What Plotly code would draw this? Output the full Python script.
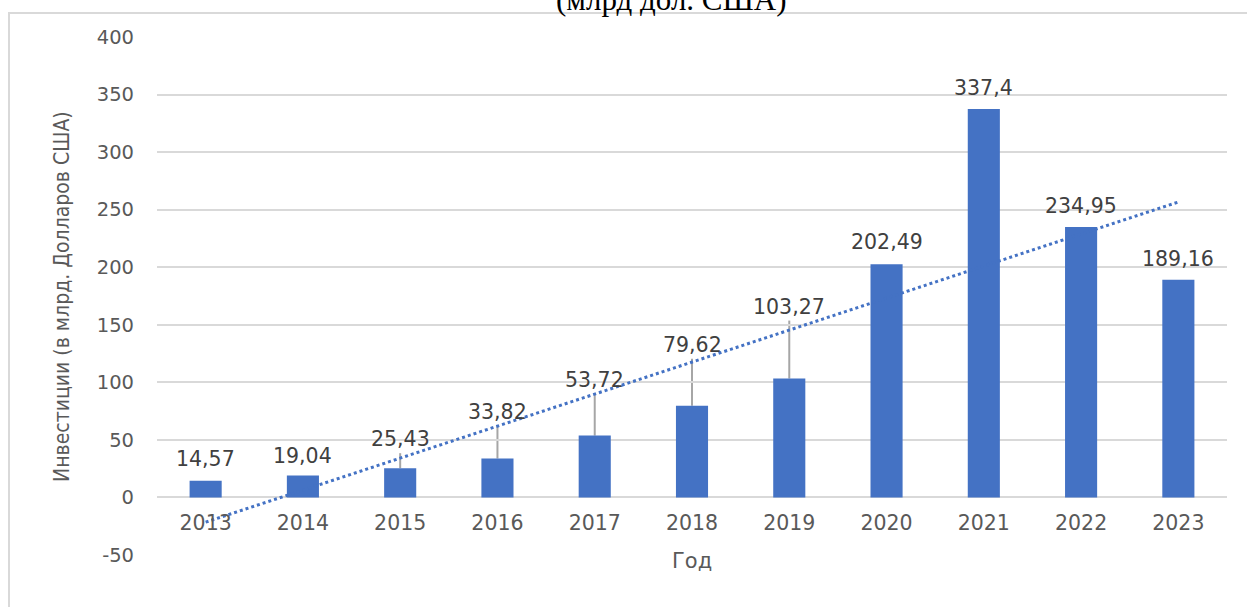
import numpy as np
import plotly.graph_objects as go

# Annual investment, billion USD
years = ["2013", "2014", "2015", "2016", "2017", "2018",
         "2019", "2020", "2021", "2022", "2023"]
investment = [14.57, 19.04, 25.43, 33.82, 53.72, 79.62,
              103.27, 202.49, 337.4, 234.95, 189.16]
y_ticks = [-50, 0, 50, 100, 150, 200, 250, 300, 350, 400]

# Vertical pixel offset of each value label above its bar top
label_shift = [22, 20, 29, 47, 56, 61, 72, 22, 21, 21, 21]
# Labels lifted well above the bar get a leader line
leader = [False, False, True, True, True, True, True, False, False, False, False]

BAR = "#4472C4"
GRID = "#D9D9D9"
TICK = "#595959"
LABEL = "#404040"

pos = list(range(len(years)))

# Linear trend across the series (least squares)
idx = np.arange(1, len(investment) + 1)
slope, intercept = np.polyfit(idx, investment, 1)
trend = slope * idx + intercept

fig = go.Figure()
fig.add_trace(go.Bar(x=pos, y=investment, marker=dict(color=BAR, line=dict(width=0)),
                     width=0.33, hoverinfo="y"))
fig.add_trace(go.Scatter(x=pos, y=trend, mode="lines",
                         line=dict(color=BAR, width=3, dash="dot"),
                         hoverinfo="skip"))

annotations = []
shapes = []
for p, v, dy, ld in zip(pos, investment, label_shift, leader):
    annotations.append(dict(
        x=p, y=v, xref="x", yref="y", text=f"{v}".replace(".", ","),
        showarrow=False, yshift=dy, yanchor="middle",
        font=dict(family="DejaVu Sans", size=20.5, color=LABEL)))
    if ld:
        shapes.append(dict(
            type="line", xref="x", yref="y", x0=p, x1=p,
            ysizemode="pixel", yanchor=v, y0=0, y1=dy - 14,
            line=dict(color="#A6A6A6", width=2), layer="below"))

# Axis titles and heading
annotations.append(dict(
    x=-0.1019, y=0.5, xref="paper", yref="paper", textangle=-90,
    text="Инвестиции (в млрд. Долларов США)", showarrow=False,
    font=dict(family="Liberation Sans Narrow, DejaVu Sans Condensed", size=21, color=TICK)))
annotations.append(dict(
    x=0.5, y=-0.0386, xref="paper", yref="paper", text="Год", showarrow=False,
    font=dict(family="DejaVu Sans", size=21, color=TICK)))
annotations.append(dict(
    x=0.4804, y=1.073, xref="paper", yref="paper", text="(млрд дол. США)",
    showarrow=False, yanchor="middle",
    font=dict(family="Liberation Serif", size=31, color="#000000")))

# Chart frame
shapes.append(dict(type="rect", xref="paper", yref="paper",
                   x0=-0.1383, x1=1.031, y0=-0.125, y1=1.0463,
                   line=dict(color=GRID, width=2), fillcolor="rgba(0,0,0,0)",
                   layer="above"))

fig.update_layout(
    width=1247, height=607,
    margin=dict(l=157, r=20, t=37, b=52),
    paper_bgcolor="white", plot_bgcolor="white",
    showlegend=False,
    annotations=annotations, shapes=shapes,
    xaxis=dict(range=[-0.5, len(years) - 0.5], tickvals=pos, ticktext=years,
               anchor="free", position=50 / 450,
               showline=False, showgrid=False, zeroline=False, ticks="",
               ticklabelstandoff=11,
               tickfont=dict(family="DejaVu Sans", size=20.5, color=TICK)),
    yaxis=dict(range=[-50, 400], tickvals=y_ticks, ticktext=[str(t) for t in y_ticks],
               showgrid=True, gridcolor=GRID,
               gridwidth=2, zeroline=False, showline=False, ticks="",
               ticklabelstandoff=22,
               tickfont=dict(family="DejaVu Sans", size=19.5, color=TICK)),
)

fig.write_html("out.html")
